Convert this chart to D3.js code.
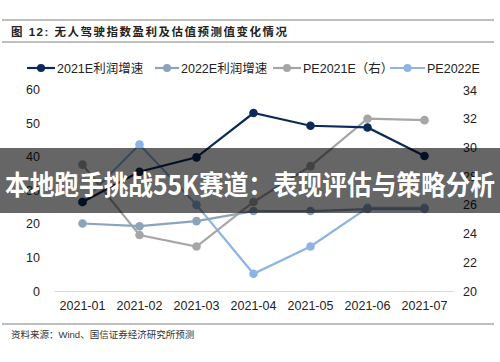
<!DOCTYPE html>
<html><head><meta charset="utf-8">
<script src="https://cdn.jsdelivr.net/npm/d3@7"></script>
<style>
body{margin:0;background:#fff;}
svg{display:block;}
</style></head>
<body>
<svg id="c" width="500" height="362"></svg>
<script>
const categories = ["2021-01","2021-02","2021-03","2021-04","2021-05","2021-06","2021-07"];
const growth2021E = [26.5, 35.5, 39.8, 53.0, 49.2, 48.7, 40.2];
const growth2022E = [20.1, 19.3, 20.8, 23.8, 23.8, 24.4, 24.4];
const pe2021E = [28.8, 23.9, 23.1, 26.2, 28.7, 32.0, 31.9];
const pe2022E = [26.2, 30.2, 26.0, 21.2, 23.1, 25.8, 25.8];
const leftTicks = [0,10,20,30,40,50,60];
const rightTicks = [20,22,24,26,28,30,32,34];
const seriesNames = ["2021E利润增速","2022E利润增速","PE2021E（右）","PE2022E"];
const seriesColors = ["#0c2a58","#8da3bc","#a6a6a6","#8db4e2"];

const svg = d3.select("#c");
const latin = "Liberation Sans, Arial, sans-serif";
const cjk = "'Liberation Sans', 'Noto Sans CJK SC', sans-serif";

// header
svg.append("line").attr("x1",2).attr("x2",494).attr("y1",20).attr("y2",20).attr("stroke","#7f7f7f").attr("stroke-width",1);
svg.append("line").attr("x1",2).attr("x2",494).attr("y1",42).attr("y2",42).attr("stroke","#7f7f7f").attr("stroke-width",1);
svg.append("text").attr("x",11).attr("y",36).attr("font-family",cjk).attr("font-size",11.5).attr("font-weight","bold")
  .attr("fill","#222").attr("letter-spacing","1.5").text("图  12:  无人驾驶指数盈利及估值预测值变化情况");

// footer
svg.append("line").attr("x1",2).attr("x2",494).attr("y1",324).attr("y2",324).attr("stroke","#7f7f7f").attr("stroke-width",1);
svg.append("text").attr("x",11).attr("y",338).attr("font-family",cjk).attr("font-size",9.5)
  .attr("fill","#333").text("资料来源：Wind、国信证券经济研究所预测");

const x = d3.scaleBand().domain(categories).range([54,453]);
const yL = d3.scaleLinear().domain([0,60]).range([291,89.5]);
const yR = d3.scaleLinear().domain([20,34]).range([291,90]);

// x axis
const xAxis = d3.axisBottom(x).tickSize(0).tickPadding(10);
const gx = svg.append("g").attr("transform","translate(0,291)").call(xAxis);
gx.select(".domain").attr("stroke","#d9d9d9").attr("stroke-width",1.2);
gx.selectAll("text").attr("font-family",latin).attr("font-size",12.5).attr("fill","#222");

// left axis
const gl = svg.append("g").attr("transform","translate(40,0)")
  .call(d3.axisLeft(yL).tickValues(leftTicks).tickSize(0).tickPadding(0));
gl.select(".domain").remove();
gl.selectAll("text").attr("font-family",latin).attr("font-size",12.5).attr("fill","#222");

// right axis
const gr = svg.append("g").attr("transform","translate(463,0)")
  .call(d3.axisRight(yR).tickValues(rightTicks).tickSize(0).tickPadding(0));
gr.select(".domain").remove();
gr.selectAll("text").attr("font-family",latin).attr("font-size",12.5).attr("fill","#222");

const cx = d => x(d) + x.bandwidth()/2;
const series = [
  {vals: pe2022E, y: yR, color: seriesColors[3]},
  {vals: pe2021E, y: yR, color: seriesColors[2]},
  {vals: growth2022E, y: yL, color: seriesColors[1]},
  {vals: growth2021E, y: yL, color: seriesColors[0]}
];
series.forEach(s => {
  const pts = categories.map((c,i)=>[cx(c), s.y(s.vals[i])]);
  svg.append("path").attr("d", d3.line()(pts)).attr("fill","none").attr("stroke",s.color).attr("stroke-width",2.2);
  svg.selectAll(null).data(pts).enter().append("circle")
    .attr("cx",d=>d[0]).attr("cy",d=>d[1]).attr("r",4.3).attr("fill",s.color);
});

// legend
const legX = [27,155,273,390];
const legLen = [28,24,28,35];
seriesNames.forEach((n,i)=>{
  const g = svg.append("g");
  g.append("line").attr("x1",legX[i]).attr("x2",legX[i]+legLen[i]).attr("y1",68).attr("y2",68)
    .attr("stroke",seriesColors[i]).attr("stroke-width",2.2);
  g.append("circle").attr("cx",legX[i]+legLen[i]/2).attr("cy",68).attr("r",4).attr("fill",seriesColors[i]);
  g.append("text").attr("x",legX[i]+legLen[i]+2).attr("y",72.5).attr("font-family",cjk).attr("font-size",12.5)
    .attr("fill","#222").text(n);
});

// overlay banner
svg.append("rect").attr("x",0).attr("y",148).attr("width",500).attr("height",65).attr("fill","rgba(0,0,0,0.6)");
svg.append("text").attr("x",250).attr("y",195).attr("text-anchor","middle")
  .attr("font-family","'Noto Sans CJK SC', sans-serif").attr("font-weight","bold").attr("font-size",27)
  .attr("textLength",490).attr("lengthAdjust","spacingAndGlyphs")
  .attr("fill","#fff").text("本地跑手挑战55K赛道：表现评估与策略分析");
</script>
</body></html>
